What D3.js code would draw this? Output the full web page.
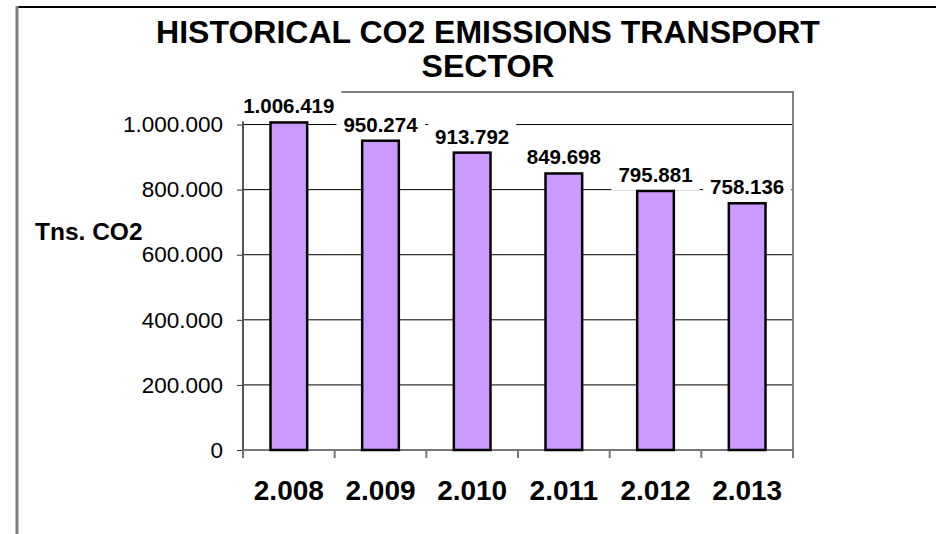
<!DOCTYPE html>
<html>
<head>
<meta charset="utf-8">
<script src="https://cdn.jsdelivr.net/npm/d3@7"></script>
<style>
  html, body { margin: 0; padding: 0; background: #fff; }
  svg { display: block; font-family: "Liberation Sans", Arial, sans-serif; }
</style>
</head>
<body>
<div id="chart"></div>
<script>
// data
const years = ['2.008', '2.009', '2.010', '2.011', '2.012', '2.013'];
const emissions = [1006419, 950274, 913792, 849698, 795881, 758136];
const yTicks = [0, 200000, 400000, 600000, 800000, 1000000];
const titleLines = ['HISTORICAL CO2 EMISSIONS TRANSPORT', 'SECTOR'];
const yTitle = 'Tns. CO2';

const width = 936;
const height = 534;
const plot = { left: 243, right: 793, top: 92, bottom: 450 };

// 1.006.419 style (dots as thousands separator)
const fmt = d3.formatLocale({ decimal: ',', thousands: '.', grouping: [3], currency: ['', ''] }).format(',d');

const svg = d3.select('#chart')
  .append('svg')
  .attr('width', width)
  .attr('height', height);

// outer frame (only top and left edges show)
svg.append('line')
  .attr('x1', 17).attr('x2', width).attr('y1', 7).attr('y2', 7)
  .style('stroke', '#000').style('stroke-width', 2);
svg.append('line')
  .attr('x1', 17).attr('x2', 17).attr('y1', 6).attr('y2', height)
  .style('stroke', '#808080').style('stroke-width', 3);

// title
svg.append('text')
  .attr('x', 488)
  .attr('y', 43)
  .style('font-size', '32px')
  .style('font-weight', 'bold')
  .style('text-anchor', 'middle')
  .selectAll('tspan')
  .data(titleLines)
  .enter()
  .append('tspan')
  .attr('x', 488)
  .attr('dy', (d, i) => (i === 0 ? 0 : 34))
  .text((d) => d);

const x = d3.scaleBand()
  .domain(years)
  .range([plot.left, plot.right])
  .paddingInner(0.6)
  .paddingOuter(0.3);

const y = d3.scaleLinear()
  .domain([0, 1100000])
  .range([plot.bottom, plot.top]);

// gridlines
svg.append('g')
  .selectAll('line')
  .data(yTicks.filter((d) => d > 0))
  .enter()
  .append('line')
  .attr('x1', plot.left)
  .attr('x2', plot.right)
  .attr('y1', (d) => y(d))
  .attr('y2', (d) => y(d))
  .style('stroke', '#000')
  .style('stroke-width', 1);

// plot border top + right
svg.append('path')
  .attr('d', `M${plot.left},${plot.top}H${plot.right}V${plot.bottom}`)
  .style('fill', 'none')
  .style('stroke', '#808080')
  .style('stroke-width', 2);

// y axis
const yAxis = svg.append('g')
  .attr('transform', `translate(${plot.left},0)`)
  .call(d3.axisLeft(y).tickValues(yTicks).tickFormat(fmt).tickSize(6).tickPadding(14));
yAxis.select('.domain').remove();
yAxis.append('line')
  .attr('y1', plot.top).attr('y2', plot.bottom)
  .style('stroke', '#555').style('stroke-width', 2);
yAxis.selectAll('.tick line').style('stroke', '#333');
yAxis.selectAll('.tick text')
  .style('font-family', '"Liberation Sans", Arial, sans-serif')
  .style('font-size', '22.5px')
  .style('fill', '#000');

// x axis
const xAxis = svg.append('g')
  .attr('transform', `translate(0,${plot.bottom})`);
xAxis.append('line')
  .attr('x1', plot.left).attr('x2', plot.right)
  .style('stroke', '#777').style('stroke-width', 2);
xAxis.selectAll('line.tk')
  .data(d3.range(years.length + 1))
  .enter()
  .append('line')
  .attr('class', 'tk')
  .attr('x1', (i) => plot.left + i * x.step())
  .attr('x2', (i) => plot.left + i * x.step())
  .attr('y1', 0).attr('y2', 8)
  .style('stroke', '#777').style('stroke-width', 2);
xAxis.selectAll('text')
  .data(years)
  .enter()
  .append('text')
  .attr('x', (d) => x(d) + x.bandwidth() / 2)
  .attr('y', 50)
  .style('font-size', '28px')
  .style('font-weight', 'bold')
  .style('text-anchor', 'middle')
  .text((d) => d);

// y axis title
svg.append('text')
  .attr('x', 35)
  .attr('y', 240)
  .style('font-size', '24.5px')
  .style('font-weight', 'bold')
  .text(yTitle);

const rows = years.map((yr, i) => ({ year: yr, value: emissions[i] }));

// data labels (white box behind, covers gridlines)
const labels = svg.append('g')
  .selectAll('g')
  .data(rows)
  .enter()
  .append('g');
labels.append('text')
  .attr('x', (d) => x(d.year) + x.bandwidth() / 2)
  .attr('y', (d) => y(d.value) - 9)
  .style('font-size', '20.5px')
  .style('font-weight', 'bold')
  .style('text-anchor', 'middle')
  .text((d) => fmt(d.value));
labels.insert('rect', 'text')
  .each(function () {
    const b = this.parentNode.querySelector('text').getBBox();
    d3.select(this)
      .attr('x', b.x - 7)
      .attr('y', b.y - 6)
      .attr('width', b.width + 14)
      .attr('height', b.height + 10)
      .style('fill', '#fff');
  });

// bars
svg.append('g')
  .selectAll('rect')
  .data(rows)
  .enter()
  .append('rect')
  .attr('x', (d) => x(d.year))
  .attr('y', (d) => y(d.value))
  .attr('width', x.bandwidth())
  .attr('height', (d) => y(0) - y(d.value))
  .style('fill', '#cc99ff')
  .style('stroke', '#000')
  .style('stroke-width', 2.5);

// keep label text above the bars
labels.each(function () { svg.node().appendChild(this.querySelector('text')); });
</script>
</body>
</html>
